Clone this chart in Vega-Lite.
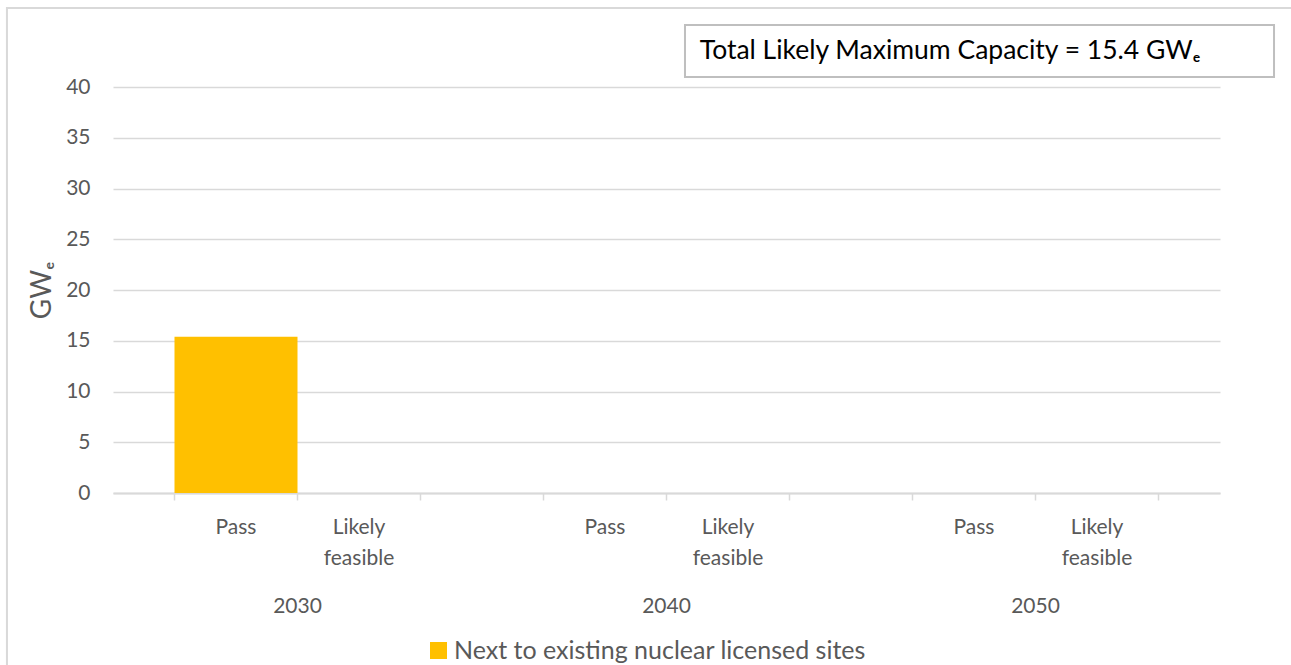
{
  "$schema": "https://vega.github.io/schema/vega-lite/v6.json",
  "width": 1107,
  "height": 406,
  "autosize": {"type": "none"},
  "padding": {"left": 113, "top": 87, "right": 71, "bottom": 172},
  "background": "white",
  "config": {"font": "Lato", "view": {"stroke": null}},
  "datasets": {
    "bars": [
      {"slot": "2030 Pass", "year": "2030", "status": "Pass", "series": "Next to existing nuclear licensed sites", "GWe": 15.4},
      {"slot": "2030 Likely feasible", "year": "2030", "status": "Likely feasible", "series": "Next to existing nuclear licensed sites", "GWe": 0},
      {"slot": "2040 Pass", "year": "2040", "status": "Pass", "series": "Next to existing nuclear licensed sites", "GWe": 0},
      {"slot": "2040 Likely feasible", "year": "2040", "status": "Likely feasible", "series": "Next to existing nuclear licensed sites", "GWe": 0},
      {"slot": "2050 Pass", "year": "2050", "status": "Pass", "series": "Next to existing nuclear licensed sites", "GWe": 0},
      {"slot": "2050 Likely feasible", "year": "2050", "status": "Likely feasible", "series": "Next to existing nuclear licensed sites", "GWe": 0}
    ],
    "years": [{"year": "2030"}, {"year": "2040"}, {"year": "2050"}],
    "ticks": [{"t": "t1"}, {"t": "t2"}, {"t": "t3"}, {"t": "t4"}, {"t": "t5"}, {"t": "t6"}, {"t": "t7"}, {"t": "t8"}, {"t": "t9"}],
    "note": [{"note": "Total Likely Maximum Capacity = 15.4 GWₑ"}]
  },
  "layer": [
    {
      "data": {"name": "note"},
      "layer": [
        {
          "mark": {"type": "rect", "filled": false, "stroke": "#d9d9d9", "strokeWidth": 2},
          "encoding": {
            "x": {"datum": -0.0958, "type": "quantitative", "scale": {"domain": [0, 1], "nice": false, "zero": false}, "axis": null},
            "x2": {"datum": 1.2},
            "y": {"datum": 47.78, "type": "quantitative", "scale": {"domain": [0, 40], "nice": false, "zero": false}, "axis": null},
            "y2": {"datum": -25}
          }
        },
        {
          "mark": {"type": "rect", "fill": "white", "stroke": "#bfbfbf", "strokeWidth": 2},
          "encoding": {
            "x": {"datum": 0.5167, "type": "quantitative"},
            "x2": {"datum": 1.0488},
            "y": {"datum": 46.11, "type": "quantitative"},
            "y2": {"datum": 40.99}
          }
        },
        {
          "mark": {"type": "text", "align": "left", "baseline": "middle", "fontSize": 26.5, "color": "#000000"},
          "encoding": {
            "x": {"datum": 0.53, "type": "quantitative"},
            "y": {"datum": 43.5, "type": "quantitative"},
            "text": {"field": "note"}
          }
        }
      ]
    },
    {
      "data": {"name": "bars"},
      "mark": {"type": "bar", "color": "#FFC000"},
      "encoding": {
        "x": {
          "field": "slot", "type": "nominal", "sort": null,
          "scale": {"type": "band", "domain": ["2030 Pass", "2030 Likely feasible", "gap1", "2040 Pass", "2040 Likely feasible", "gap2", "2050 Pass", "2050 Likely feasible"], "paddingInner": 0, "paddingOuter": 0.5},
          "axis": {
            "orient": "bottom", "title": null, "ticks": false, "tickSize": 0, "grid": false,
            "labelExpr": "indexof(datum.value, ' ') < 0 ? '' : split(substring(datum.value, 5), ' ')",
            "labelPadding": 23, "labelFontSize": 21, "labelColor": "#595959", "labelLineHeight": 31, "labelAngle": 0, "labelAlign": "center", "labelLimit": 300,
            "domainColor": "#d9d9d9", "domainWidth": 2
          }
        },
        "y": {
          "field": "GWe", "type": "quantitative",
          "scale": {"domain": [0, 40], "nice": false},
          "axis": {
            "orient": "left",
            "values": [0, 5, 10, 15, 20, 25, 30, 35, 40],
            "title": "GWₑ", "titleFontSize": 28, "titleFontWeight": "normal", "titleColor": "#595959", "titlePadding": 9,
            "labelFontSize": 21, "labelColor": "#595959", "labelPadding": 23,
            "ticks": false, "tickSize": 0, "domain": false,
            "grid": true, "gridColor": "#d9d9d9", "gridWidth": 1.5
          }
        },
        "color": {
          "field": "series", "type": "nominal",
          "scale": {"range": ["#FFC000"]},
          "legend": {
            "orient": "none", "legendX": 313, "legendY": 551, "title": null, "padding": 0,
            "symbolType": "square", "symbolSize": 289, "symbolStrokeWidth": 0,
            "labelFontSize": 25, "labelColor": "#595959", "labelLimit": 800, "labelOffset": 3
          }
        }
      }
    },
    {
      "data": {"name": "years"},
      "mark": {"type": "point", "opacity": 0},
      "encoding": {
        "x": {
          "field": "year", "type": "nominal",
          "scale": {"type": "band", "paddingInner": 0, "paddingOuter": 0},
          "axis": {"orient": "bottom", "title": null, "ticks": false, "tickSize": 0, "domain": false, "grid": false, "labelPadding": 102, "labelFontSize": 21, "labelColor": "#595959", "labelAngle": 0}
        }
      }
    },
    {
      "data": {"name": "ticks"},
      "mark": {"type": "point", "opacity": 0},
      "encoding": {
        "x": {
          "field": "t", "type": "nominal",
          "scale": {"type": "band", "paddingInner": 0, "paddingOuter": 0},
          "axis": {"orient": "bottom", "title": null, "labels": false, "ticks": true, "tickSize": 7, "tickColor": "#d9d9d9", "tickWidth": 1.5, "domain": false, "grid": false}
        }
      }
    }
  ],
  "resolve": {"scale": {"x": "independent", "y": "independent"}, "axis": {"x": "independent", "y": "independent"}}
}
